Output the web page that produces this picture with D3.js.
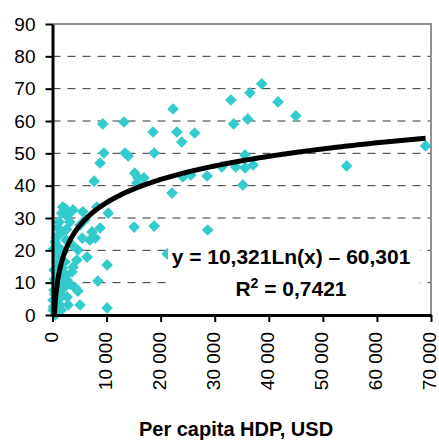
<!DOCTYPE html>
<html>
<head>
<meta charset="utf-8">
<script src="https://cdn.jsdelivr.net/npm/d3@7"></script>
<style>
  body { margin: 0; background: #fff; }
  text { font-family: Arial, "Liberation Sans", sans-serif; }
</style>
</head>
<body>
<svg id="chart" width="439" height="440"></svg>
<script>
// per capita HDP (USD) and the y value of each country
var hdp = [69000, 54400, 45000, 41700, 38700, 36500, 33000, 36100, 33500, 35600,
    37100, 35600, 33900, 31300, 28600, 35200, 28700, 26300, 25600, 23900,
    23000, 22300, 22100, 24100, 18600, 18800, 18800, 15100, 13200, 13400,
    14000, 15200, 15800, 16900, 15600, 9300, 9500, 8800, 7700, 8200,
    10300, 10100, 8400, 4700, 5100, 10100, 21200, 1900, 3800, 5600,
    8800, 7900, 6900, 6400, 4700, 3800, 2700, 2700, 1400, 500,
    800, 800, 4500, 3600, 6000, 5100, 7300, 1800, 1200, 5500,
    3600, 2500, 3200, 4200, 1800, 2300, 100, 300, 600, 100,
    500, 1000, 1400, 1800, 1000, 300, 1900, 1600, 2500, 2100,
    600, 2900, 1300, 2200, 400, 700, 200, 700, 1100, 1500,
    2000, 2600, 3000, 1700, 2300, 2900, 1000, 400, 900, 1500,
    2400, 3300, 200, 800, 1600];
var values = [52.3, 46.1, 61.6, 65.9, 71.5, 68.7, 66.5, 60.6, 59.1, 49.5,
    46.4, 45.5, 45.8, 45.8, 43.0, 40.2, 26.3, 56.3, 43.3, 53.5,
    56.6, 63.7, 37.7, 42.7, 56.6, 50.1, 27.5, 27.2, 59.7, 50.1,
    49.2, 43.9, 42.4, 42.4, 40.8, 59.1, 50.1, 47.0, 41.4, 33.4,
    31.5, 15.5, 10.5, 7.4, 3.1, 2.2, 18.9, 33.4, 32.5, 31.9,
    26.9, 23.8, 23.2, 17.9, 20.1, 14.8, 10.8, 5.6, 26.3, 22.6,
    16.4, 19.2, 17.0, 13.3, 29.4, 27.8, 25.7, 25.7, 28.8, 23.8,
    21.7, 30.9, 28.8, 8.4, 14.5, 16.4, 4.6, 7.7, 10.2, 1.5,
    0.0, 0.9, 3.1, 5.9, 12.4, 13.9, 9.0, 20.1, 23.2, 8.4,
    4.6, 3.1, 18.0, 12.0, 6.5, 2.0, 20.5, 24.0, 21.0, 17.5,
    19.5, 26.5, 22.5, 31.5, 33.0, 31.0, 27.0, 11.0, 7.0, 11.5,
    12.5, 9.5, 2.5, 0.5, 1.5];

var xTicks = [0, 10000, 20000, 30000, 40000, 50000, 60000, 70000];
var yTicks = [0, 10, 20, 30, 40, 50, 60, 70, 80, 90];

// logarithmic trend: y = a*ln(x) + b
var trendA = 10.321;
var trendB = -60.301;
var trendFrom = 345;
var trendTo = 69000;

var svg = d3.select("#chart");

var x = d3.scaleLinear().domain([0, 70000]).range([52.5, 431]);
var y = d3.scaleLinear().domain([0, 90]).range([315, 24]);

var fmt = function(d) { return d3.format(",")(d).replace(/,/g, " "); };

// grid lines
svg.append("g")
    .selectAll("line")
    .data(yTicks.filter(function(d) { return d > 0 && d < 90; }))
    .enter().append("line")
    .attr("x1", x(0))
    .attr("x2", x(70000))
    .attr("y1", function(d) { return y(d); })
    .attr("y2", function(d) { return y(d); })
    .attr("stroke", "#333")
    .attr("stroke-width", 1)
    .attr("stroke-dasharray", "8,7");

// plot border top / right
svg.append("path")
    .attr("d", "M" + x(0) + "," + y(90) + "H" + x(70000) + "V" + y(0))
    .attr("fill", "none")
    .attr("stroke", "#909090")
    .attr("stroke-width", 2);

// points
svg.append("g")
    .selectAll("path")
    .data(hdp)
    .enter().append("path")
    .attr("d", d3.symbol().type(d3.symbolSquare).size(68))
    .attr("transform", function(d, i) {
        return "translate(" + x(d) + "," + y(values[i]) + ") rotate(45)";
    })
    .attr("fill", "#33CCCC");

// trend line
var trendX = d3.range(trendFrom, 2000, 20).concat(d3.range(2000, trendTo, 500)).concat([trendTo]);
var line = d3.line()
    .x(function(d) { return x(d); })
    .y(function(d) { return y(trendA * Math.log(d) + trendB); });

svg.append("path")
    .datum(trendX)
    .attr("d", line)
    .attr("fill", "none")
    .attr("stroke", "#000")
    .attr("stroke-width", 5);

// equation label
svg.append("rect")
    .attr("x", 168)
    .attr("y", 238)
    .attr("width", 252)
    .attr("height", 62)
    .attr("fill", "#fff");

svg.append("text")
    .attr("x", 291)
    .attr("y", 264)
    .attr("text-anchor", "middle")
    .attr("font-size", 21)
    .attr("font-weight", "bold")
    .text("y = " + String(trendA).replace(".", ",") + "Ln(x) \u2013 " + String(-trendB).replace(".", ","));

var r2 = svg.append("text")
    .attr("x", 291)
    .attr("y", 296)
    .attr("text-anchor", "middle")
    .attr("font-size", 21)
    .attr("font-weight", "bold");
r2.append("tspan").text("R");
r2.append("tspan").attr("font-size", 14).attr("dy", -8).text("2");
r2.append("tspan").attr("dy", 8).text(" = 0,7421");

// axes
var xAxis = svg.append("g")
    .attr("transform", "translate(0," + y(0) + ")")
    .call(d3.axisBottom(x).tickValues(xTicks).tickFormat(fmt).tickSize(7).tickSizeOuter(0));
xAxis.select(".domain").attr("stroke-width", 3);
xAxis.selectAll(".tick line").attr("stroke-width", 2);
xAxis.selectAll(".tick text")
    .attr("font-size", 19)
    .attr("fill", "#000")
    .attr("transform", "rotate(-90)")
    .attr("text-anchor", "end")
    .attr("x", -17)
    .attr("y", 0)
    .attr("dy", "0.25em");

var yAxis = svg.append("g")
    .attr("transform", "translate(" + x(0) + ",0)")
    .call(d3.axisLeft(y).tickValues(yTicks).tickSize(7).tickSizeOuter(0).tickPadding(10));
yAxis.select(".domain").attr("stroke-width", 3);
yAxis.selectAll(".tick line").attr("stroke-width", 2);
yAxis.selectAll(".tick text")
    .attr("font-size", 19)
    .attr("fill", "#000");

svg.append("text")
    .attr("x", 236)
    .attr("y", 436)
    .attr("text-anchor", "middle")
    .attr("font-size", 20)
    .attr("font-weight", "bold")
    .text("Per capita HDP, USD");
</script>
</body>
</html>
